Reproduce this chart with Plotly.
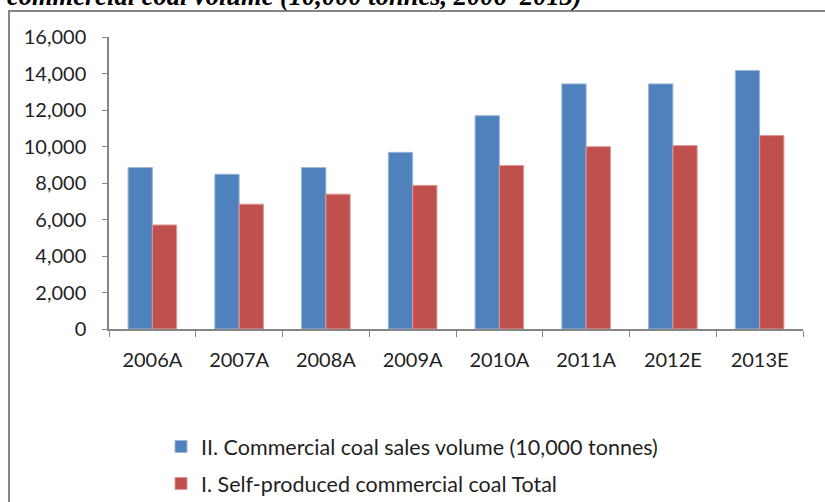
import plotly.graph_objects as go

# categories and values (10,000 tonnes)
years = ["2006A", "2007A", "2008A", "2009A", "2010A", "2011A", "2012E", "2013E"]
sales_volume = [8850, 8480, 8850, 9680, 11690, 13430, 13430, 14160]
self_produced = [5700, 6840, 7390, 7870, 8960, 9990, 10050, 10600]

sales_name = "II. Commercial coal sales volume (10,000 tonnes)"
self_name = "I. Self-produced commercial coal Total"
title_text = "commercial coal volume (10,000 tonnes, 2006\u20132013)"

AXIS_GREY = "#868686"
TEXT = "#1f1f1f"
FONT = "Lato"

W, H = 825, 502

fig = go.Figure()
fig.add_trace(go.Bar(
    x=years, y=sales_volume, name=sales_name, legendgroup="a",
    marker=dict(color="#4F81BD", line=dict(color="#9DB6DA", width=1)),
))
fig.add_trace(go.Bar(
    x=years, y=self_produced, name=self_name, legendgroup="b",
    marker=dict(color="#C0504D", line=dict(color="#DC9896", width=1)),
))

fig.update_layout(
    width=W, height=H,
    margin=dict(l=109, r=22, t=37, b=173, autoexpand=False),
    paper_bgcolor="white", plot_bgcolor="white",
    font=dict(family=FONT, size=20, color=TEXT),
    barmode="group", bargap=0.44, bargroupgap=0,
    showlegend=True,
    legend=dict(
        xref="container", yref="container",
        x=161 / W, y=1 - 426 / H,
        xanchor="left", yanchor="top",
        orientation="v", tracegroupgap=6,
        font=dict(family=FONT, size=21.5, color=TEXT),
        bgcolor="rgba(0,0,0,0)",
    ),
)

fig.update_xaxes(
    automargin=False,
    showline=True, linecolor=AXIS_GREY, linewidth=1.5,
    ticks="outside", tickson="boundaries", ticklen=6, tickcolor=AXIS_GREY,
    ticklabelstandoff=12, showgrid=False,
)
fig.update_yaxes(
    automargin=False,
    range=[0, 16000], dtick=2000, tickformat=",d",
    showline=True, linecolor=AXIS_GREY, linewidth=1.5,
    ticks="outside", ticklen=5, tickcolor=AXIS_GREY,
    ticklabelstandoff=12, showgrid=False, zeroline=False,
)

# frame of the source figure (only top and left edges show in the crop)
fig.add_shape(
    type="rect", xref="paper", yref="paper",
    x0=(9 - 109) / 694, x1=1.2, y0=-0.8, y1=(329 - 11) / 292,
    line=dict(color=AXIS_GREY, width=2), layer="below",
)

# caption cut off by the top of the picture
fig.add_annotation(
    text="<b><i>" + title_text + "</i></b>",
    xref="paper", yref="paper",
    x=(5 - 109) / 694, y=(329 + 4) / 292,
    xanchor="left", yanchor="middle", showarrow=False,
    font=dict(family="Liberation Serif", size=26.5, color="black"),
)

# drop the page's default body margin so the figure fills the window
fig.write_html(
    "out.html",
    config={"displayModeBar": False},
    post_script="document.body.style.margin='0px';",
)
